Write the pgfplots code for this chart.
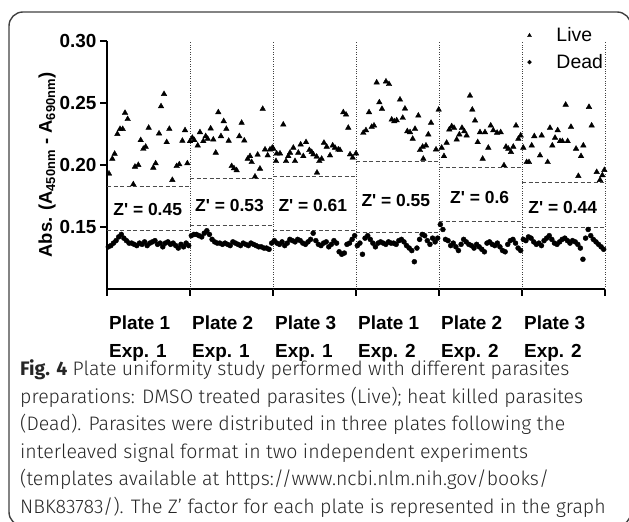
\documentclass[border=0pt]{standalone}
\usepackage{pgfplots}
\pgfplotsset{compat=1.18}
\usepackage{fontspec}
\setmainfont{Liberation Sans}
\newfontfamily\capfont{Fira Sans Light}[BoldFont={Fira Sans Bold}]

% Live (DMSO treated) readings, x = plate index + position in plate
\pgfplotstableread{
x y
0.024 0.193
0.064 0.205
0.092 0.209
0.125 0.225
0.157 0.229
0.189 0.229
0.217 0.242
0.249 0.237
0.317 0.1844
0.337 0.1986
0.377 0.200
0.406 0.220
0.438 0.213
0.466 0.2147
0.502 0.230
0.558 0.1978
0.586 0.2013
0.627 0.2254
0.651 0.2473
0.687 0.2572
0.719 0.2184
0.751 0.2291
0.787 0.1879
0.839 0.1991
0.871 0.2005
0.908 0.2195
0.940 0.228
0.968 0.2013
1.000 0.2192
1.028 0.2219
1.052 0.220
1.093 0.2157
1.120 0.2264
1.160 0.2192
1.189 0.2232
1.213 0.2211
1.249 0.2294
1.281 0.2205
1.310 0.2099
1.341 0.2425
1.373 0.2232
1.406 0.2353
1.438 0.2291
1.466 0.2195
1.502 0.1991
1.530 0.1973
1.562 0.1957
1.594 0.2232
1.622 0.234
1.654 0.2197
1.695 0.205
1.723 0.2071
1.743 0.2023
1.783 0.1906
1.815 0.2083
1.843 0.197
1.876 0.2452
1.904 0.2125
1.936 0.2077
1.964 0.2125
1.992 0.2139
2.004 0.2131
2.036 0.2031
2.044 0.2093
2.084 0.2093
2.124 0.2326
2.157 0.2031
2.184 0.2071
2.205 0.2099
2.245 0.2139
2.265 0.2031
2.305 0.2099
2.333 0.2165
2.365 0.2071
2.398 0.2184
2.438 0.212
2.466 0.2104
2.486 0.2085
2.526 0.2067
2.530 0.1938
2.558 0.2031
2.586 0.205
2.614 0.2179
2.647 0.2147
2.687 0.2077
2.719 0.2157
2.747 0.2139
2.787 0.2125
2.807 0.212
2.847 0.2425
2.880 0.2406
2.907 0.230
2.928 0.2085
2.960 0.2059
3.000 0.2093
3.088 0.2259
3.120 0.228
3.157 0.2425
3.189 0.2307
3.217 0.2318
3.249 0.2665
3.281 0.2505
3.313 0.2452
3.361 0.2673
3.398 0.2652
3.430 0.2366
3.461 0.2352
3.490 0.2360
3.530 0.2527
3.563 0.238
3.590 0.2454
3.618 0.2272
3.651 0.2264
3.683 0.2211
3.711 0.2291
3.751 0.2398
3.771 0.212
3.803 0.2147
3.811 0.205
3.843 0.2157
3.871 0.2246
3.904 0.234
3.964 0.2125
3.996 0.2446
4.032 0.2139
4.060 0.2071
4.092 0.2179
4.124 0.2286
4.153 0.2312
4.181 0.2299
4.213 0.2205
4.245 0.2246
4.277 0.2299
4.305 0.2272
4.333 0.2238
4.373 0.2559
4.401 0.2446
4.434 0.2358
4.466 0.2184
4.494 0.2264
4.526 0.205
4.554 0.2264
4.594 0.2139
4.623 0.2318
4.654 0.228
4.700 0.2260
4.743 0.2264
4.783 0.1997
4.807 0.2147
4.835 0.2131
4.867 0.2104
4.895 0.2147
4.928 0.2318
4.956 0.2211
4.984 0.2238
5.016 0.2139
5.056 0.2023
5.084 0.2023
5.117 0.2157
5.148 0.2232
5.217 0.2077
5.237 0.2238
5.309 0.2023
5.337 0.2299
5.365 0.2157
5.398 0.2219
5.430 0.228
5.458 0.2192
5.486 0.2192
5.526 0.2486
5.550 0.2192
5.590 0.2307
5.651 0.2131
5.679 0.1911
5.711 0.2071
5.739 0.2157
5.807 0.2468
5.839 0.2318
5.900 0.1943
5.940 0.1879
5.968 0.1917
5.992 0.1959
}\live

% Dead (heat killed) readings
\pgfplotstableread{
x y
0.016 0.134
0.047 0.135
0.078 0.137
0.109 0.139
0.141 0.142
0.172 0.144
0.203 0.141
0.234 0.139
0.266 0.137
0.297 0.137
0.328 0.136
0.359 0.135
0.391 0.137
0.422 0.136
0.453 0.138
0.484 0.135
0.516 0.137
0.547 0.138
0.578 0.139
0.609 0.136
0.641 0.137
0.672 0.134
0.703 0.137
0.734 0.138
0.766 0.136
0.797 0.137
0.828 0.135
0.859 0.133
0.891 0.136
0.922 0.134
0.953 0.137
0.984 0.135
1.016 0.143
1.047 0.144
1.078 0.144
1.109 0.143
1.141 0.142
1.172 0.145
1.203 0.147
1.234 0.144
1.266 0.140
1.297 0.138
1.328 0.137
1.359 0.137
1.391 0.136
1.422 0.137
1.453 0.136
1.484 0.135
1.516 0.138
1.547 0.137
1.578 0.136
1.609 0.135
1.641 0.137
1.672 0.136
1.703 0.135
1.734 0.137
1.766 0.136
1.797 0.135
1.828 0.134
1.859 0.134
1.891 0.133
1.922 0.133
1.953 0.132
1.984 0.137
2.016 0.139
2.047 0.137
2.078 0.136
2.109 0.138
2.141 0.135
2.172 0.137
2.203 0.140
2.234 0.139
2.266 0.138
2.297 0.140
2.328 0.139
2.359 0.137
2.391 0.136
2.422 0.138
2.453 0.140
2.484 0.145
2.516 0.139
2.547 0.136
2.578 0.135
2.609 0.137
2.641 0.138
2.672 0.134
2.703 0.136
2.734 0.139
2.766 0.137
2.797 0.130
2.828 0.128
2.859 0.129
2.891 0.136
2.922 0.137
2.953 0.140
2.984 0.143
3.016 0.135
3.047 0.137
3.078 0.128
3.109 0.141
3.141 0.143
3.172 0.140
3.203 0.137
3.234 0.134
3.266 0.137
3.297 0.138
3.328 0.137
3.359 0.136
3.391 0.138
3.422 0.137
3.453 0.137
3.484 0.136
3.516 0.139
3.547 0.140
3.578 0.138
3.609 0.135
3.641 0.133
3.672 0.131
3.703 0.122
3.734 0.133
3.766 0.140
3.797 0.144
3.828 0.143
3.859 0.139
3.891 0.136
3.922 0.141
3.953 0.138
3.984 0.141
4.016 0.152
4.047 0.148
4.078 0.140
4.109 0.139
4.141 0.135
4.172 0.137
4.203 0.134
4.234 0.131
4.266 0.136
4.297 0.140
4.328 0.138
4.359 0.136
4.391 0.135
4.422 0.133
4.453 0.136
4.484 0.134
4.516 0.132
4.547 0.130
4.578 0.137
4.609 0.138
4.641 0.136
4.672 0.135
4.703 0.137
4.734 0.134
4.766 0.131
4.797 0.130
4.828 0.136
4.859 0.139
4.891 0.140
4.922 0.137
4.953 0.133
4.984 0.131
5.016 0.140
5.047 0.139
5.078 0.142
5.109 0.141
5.141 0.138
5.172 0.136
5.203 0.137
5.234 0.135
5.266 0.139
5.297 0.141
5.328 0.143
5.359 0.140
5.391 0.137
5.422 0.136
5.453 0.138
5.484 0.140
5.516 0.141
5.547 0.139
5.578 0.137
5.609 0.139
5.641 0.138
5.672 0.136
5.703 0.133
5.734 0.124
5.766 0.141
5.797 0.148
5.828 0.143
5.859 0.140
5.891 0.138
5.922 0.136
5.953 0.134
5.984 0.132
}\dead

\begin{document}
\begin{tikzpicture}[x=1bp,y=1bp]
\useasboundingbox (0,0) rectangle (629,522);
\draw[line width=1.4bp, black!75, rounded corners=14bp] (9,-4) rectangle (631,510);
\begin{axis}[
    at={(107bp,233bp)}, anchor=south west,
    width=498bp, height=248bp, scale only axis,
    xmin=0, xmax=6, ymin=0.10, ymax=0.30,
    axis x line*=bottom, axis y line*=left,
    axis line style={line width=1.8bp, -},
    tick style={line width=1.8bp, black},
    tick align=outside, major tick length=7bp,
    ytick={0.15,0.20,0.25,0.30},
    yticklabel style={font=\fontsize{19}{20}\selectfont\bfseries,
        /pgf/number format/.cd, fixed, fixed zerofill, precision=2, assume math mode=true},
    xtick={0,...,6},
    xticklabels={{Plate 1\\[6bp]Exp. 1},{Plate 2\\[6bp]Exp. 1},{Plate 3\\[6bp]Exp. 1},{Plate 1\\[6bp]Exp. 2},{Plate 2\\[6bp]Exp. 2},{Plate 3\\[6bp]Exp. 2},{}},
    xticklabel style={align=left, anchor=north west, inner sep=0pt,
        font=\fontsize{19}{22}\selectfont\bfseries, xshift=2bp, yshift=-20bp},
    extra x ticks={1,...,6}, extra x tick labels={},
    extra x tick style={grid=major, major tick length=0pt,
        major grid style={dotted, line width=0.9bp, black!75}},
    ylabel={Abs. (A\textsubscript{450nm} - A\textsubscript{690nm})},
    ylabel style={font=\fontsize{18.5}{20}\selectfont\bfseries, xshift=0bp, yshift=-3bp},
    legend cell align=left,
    legend style={draw=none, fill=none, at={(0.838,1.07)}, anchor=north west,
        font=\fontsize{19.5}{22}\selectfont, row sep=7bp,
        /tikz/every odd column/.append style={column sep=23bp}},
    thr/.style={black!70, line width=0.9bp, dash pattern=on 4bp off 2.5bp, forget plot},
]
\addplot[only marks, mark=triangle*, mark size=3.2bp, black,
    legend image post style={mark size=2.3bp}] table {\live};
\addplot[only marks, mark=*, mark size=2.5bp, black,
    legend image post style={mark size=1.9bp}] table {\dead};
\legend{Live, Dead}

% thresholds per plate (Live mean - 3SD, Dead mean + 3SD)
\addplot[thr] coordinates {(0,0.1826) (1,0.1826)};
\addplot[thr] coordinates {(0,0.1470) (1,0.1470)};
\addplot[thr] coordinates {(1,0.1890) (2,0.1890)};
\addplot[thr] coordinates {(1,0.1510) (2,0.1510)};
\addplot[thr] coordinates {(2,0.1906) (3,0.1906)};
\addplot[thr] coordinates {(2,0.1470) (3,0.1470)};
\addplot[thr] coordinates {(3,0.2026) (4,0.2026)};
\addplot[thr] coordinates {(3,0.1457) (4,0.1457)};
\addplot[thr] coordinates {(4,0.1978) (5,0.1978)};
\addplot[thr] coordinates {(4,0.1542) (5,0.1542)};
\addplot[thr] coordinates {(5,0.1858) (6,0.1858)};
\addplot[thr] coordinates {(5,0.1494) (6,0.1494)};

\begin{scope}[every node/.style={font=\fontsize{17.5}{20}\selectfont\bfseries}]
\node at (axis cs:0.49,0.1644) {Z\textquotesingle{} = 0.45};
\node at (axis cs:1.476,0.1670) {Z\textquotesingle{} = 0.53};
\node at (axis cs:2.48,0.1670) {Z\textquotesingle{} = 0.61};
\node at (axis cs:3.48,0.1710) {Z\textquotesingle{} = 0.55};
\node at (axis cs:4.49,0.1737) {Z\textquotesingle{} = 0.6};
\node at (axis cs:5.49,0.1657) {Z\textquotesingle{} = 0.44};
\end{scope}
\end{axis}

\begin{scope}[every node/.style={anchor=base west, inner sep=0pt, font=\capfont\fontsize{19.6}{28}\selectfont, text=black!85}]
\node at (20,146) {\textbf{Fig. 4} Plate uniformity study performed with different parasites};
\node at (20,118) {preparations: DMSO treated parasites (Live); heat killed parasites};
\node at (20,91) {(Dead). Parasites were distributed in three plates following the};
\node at (20,63) {interleaved signal format in two independent experiments};
\node at (20,36) {(templates available at https://www.ncbi.nlm.nih.gov/books/};
\node at (20,8) {NBK83783/). The Z’ factor for each plate is represented in the graph};
\end{scope}
\end{tikzpicture}
\end{document}
